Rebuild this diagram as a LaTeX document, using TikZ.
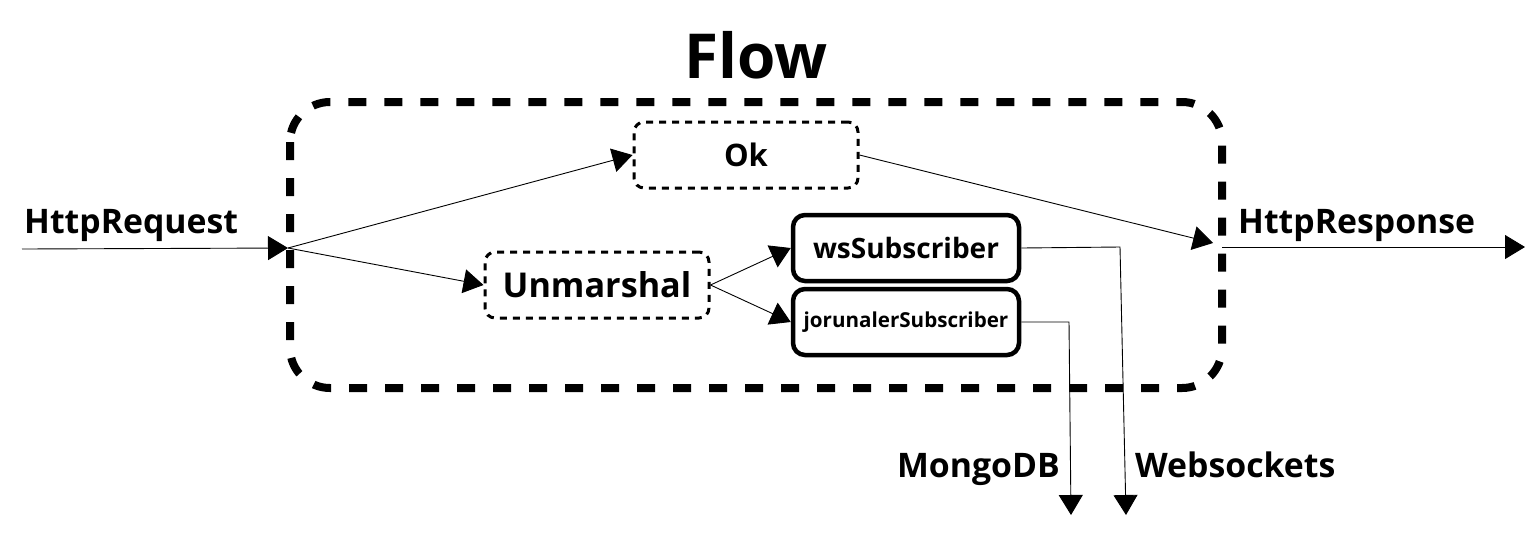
\documentclass[tikz,border=0pt]{standalone}
\usepackage{fontspec}
\setmainfont{Open Sans}
\usetikzlibrary{arrows.meta}
\tikzset{
  tip/.style={-{Triangle[length=20pt,width=24pt]}},
  conn/.style={line width=0.9pt, tip},
  dbox/.style={draw, line width=3pt, dash pattern=on 7pt off 6pt, rounded corners=10pt,
    minimum width=224pt, minimum height=66pt, inner sep=0pt, font=\bfseries\fontsize{31}{36}\selectfont},
  sbox/.style={draw, line width=4.5pt, rounded corners=12pt,
    minimum width=226pt, minimum height=66pt, inner sep=0pt},
  lbl/.style={font=\bfseries\fontsize{33.8}{38}\selectfont, inner sep=0pt},
}
\begin{document}
\begin{tikzpicture}[x=1pt,y=-1pt]
\useasboundingbox (0,0) rectangle (1525,542);
% title
\node[font=\bfseries\fontsize{62}{70}\selectfont, inner sep=0pt] (title) at (756,55) {Flow};
% big flow container
\draw[line width=8pt, dash pattern=on 18pt off 18pt, rounded corners=40pt]
  (290,102) rectangle (1222,388);
% nodes
\node[dbox] (ok) at (746,155) {Ok};
\node[dbox, font=\bfseries\fontsize{34.2}{38}\selectfont] (unm) at (597,285) {Unmarshal};
\node[sbox, font=\bfseries\fontsize{28}{32}\selectfont] (ws) at (906,248) {wsSubscriber};
\node[sbox, font=\bfseries\fontsize{20.6}{24}\selectfont] (jr) at (906,322) {jorunalerSubscriber};
% coordinates
\coordinate (reqstart) at (22,249);
\coordinate (in) at (288,248);
\coordinate (outend) at (1213,243);
\coordinate (respstart) at (1222,247);
\coordinate (respend) at (1525,247);
\coordinate (wsturn) at (1120,247);
\coordinate (wsend) at (1126,515);
\coordinate (jrturn) at (1069,322);
\coordinate (jrend) at (1071,515);
% labels
\node[lbl, anchor=base west] (req) at (24,233) {HttpRequest};
\node[lbl, anchor=base west] (resp) at (1238,233) {HttpResponse};
\node[lbl, anchor=base east] (mongo) at (1060,477) {MongoDB};
\node[lbl, anchor=base west] (wsock) at (1135,477) {Websockets};
% connectors
\draw[conn] (reqstart) -- (in);
\draw[conn] (in) -- (ok.west);
\draw[conn] (in) -- (unm.west);
\draw[conn] (unm.east) -- (ws.west);
\draw[conn] (unm.east) -- (jr.west);
\draw[conn] (ok.east) -- (outend);
\draw[conn] (respstart) -- (respend);
\draw[conn] (ws.east) -- (wsturn) -- (wsend);
\draw[conn] (jr.east) -- (jrturn) -- (jrend);
\end{tikzpicture}
\end{document}
